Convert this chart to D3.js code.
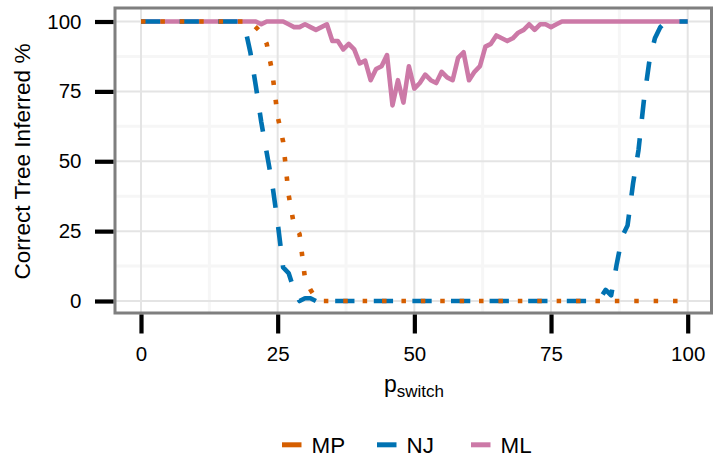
<!DOCTYPE html>
<html>
<head>
<meta charset="utf-8">
<script src="https://cdn.jsdelivr.net/npm/d3@7"></script>
<style>
  html, body { margin: 0; padding: 0; background: #ffffff; }
  svg { display: block; }
  text { font-family: "Liberation Sans", Arial, Helvetica, sans-serif; fill: #000; }
</style>
</head>
<body>
<svg id="chart" width="713" height="457"></svg>
<script>
// Switching probability (%) used for each simulation setting
const pSwitch = d3.range(0, 101);

// Percentage of runs that recovered the correct tree, per method
const mpValues = [
  100,100,100,100,100,100,100,100,100,100,
  100,100,100,100,100,100,100,100,100,100,
  100,98,96,92,82,66,57,38,27,24,
  8,4,1,0,0,0,0,0,0,0,
  0,0,0,0,0,0,0,0,0,0,
  0,0,0,0,0,0,0,0,0,0,
  0,0,0,0,0,0,0,0,0,0,
  0,0,0,0,0,0,0,0,0,0,
  0,0,0,0,0,0,0,0,0,0,
  0,0,0,0,0,0,0,0,0,0,
  0
];
const njValues = [
  100,100,100,100,100,100,100,100,100,100,
  100,100,100,100,100,100,100,100,100,98,
  89,77,64,53,42,28,12,10,4,0,
  1,1,0,0,0,0,0,0,0,0,
  0,0,0,0,0,0,0,0,0,0,
  0,0,0,0,0,0,0,0,0,0,
  0,0,0,0,0,0,0,0,0,0,
  0,0,0,0,0,0,0,0,0,0,
  0,0,0,0,1,4,2,13,23,27,
  42,54,72,86,94,98,100,100,100,100,
  100
];
const mlValues = [
  100,100,100,100,100,100,100,100,100,100,
  100,100,100,100,100,100,100,100,100,100,
  100,100,99,100,100,100,100,99,98,98,
  99,98,97,98,99,93,93,90,92,90,
  85,86,79,83,84,88,70,79,71,84,
  76,78,81,79,78,82,80,79,87,89,
  79,82,84,91,92,95,94,93,94,96,
  97,99,97,99,99,98,99,100,100,100,
  100,100,100,100,100,100,100,100,100,100,
  100,100,100,100,100,100,100,100,100,100,
  100
];

const methodNames = ["MP", "NJ", "ML"];
const methodColors = ["#D55E00", "#0072B2", "#CC79A7"];
const xTicks = [0, 25, 50, 75, 100];
const yTicks = [0, 25, 50, 75, 100];
const xMinor = [12.5, 37.5, 62.5, 87.5];
const yMinor = [12.5, 37.5, 62.5, 87.5];

const series = [
  { name: methodNames[0], values: mpValues, color: methodColors[0], dash: "4.5,14.9" },
  { name: methodNames[1], values: njValues, color: methodColors[1], dash: "19.3,19.3" },
  { name: methodNames[2], values: mlValues, color: methodColors[2], dash: null }
];

const svg = d3.select("#chart");

// Panel box
const panel = { left: 115, right: 711.5, top: 8, bottom: 313 };

const x = d3.scaleLinear().domain([0, 100]).range([141, 687.7]);
const y = d3.scaleLinear().domain([0, 100]).range([301, 21.5]);

// Grid: minor then major
const grid = svg.append("g");
grid.selectAll(".vminor").data(xMinor).join("line")
  .attr("x1", d => x(d)).attr("x2", d => x(d))
  .attr("y1", panel.top).attr("y2", panel.bottom)
  .attr("stroke", "#f6f6f6").attr("stroke-width", 3);
grid.selectAll(".hminor").data(yMinor).join("line")
  .attr("y1", d => y(d)).attr("y2", d => y(d))
  .attr("x1", panel.left).attr("x2", panel.right)
  .attr("stroke", "#f6f6f6").attr("stroke-width", 3);
grid.selectAll(".vmajor").data(xTicks).join("line")
  .attr("x1", d => x(d)).attr("x2", d => x(d))
  .attr("y1", panel.top).attr("y2", panel.bottom)
  .attr("stroke", "#e4e4e4").attr("stroke-width", 2);
grid.selectAll(".hmajor").data(yTicks).join("line")
  .attr("y1", d => y(d)).attr("y2", d => y(d))
  .attr("x1", panel.left).attr("x2", panel.right)
  .attr("stroke", "#e4e4e4").attr("stroke-width", 2);

// Lines: ML underneath, then NJ, then MP on top
const line = d3.line().x((d, i) => x(pSwitch[i])).y(d => y(d));
const drawOrder = [series[2], series[1], series[0]];
svg.append("g").selectAll("path").data(drawOrder).join("path")
  .attr("d", s => line(s.values))
  .attr("fill", "none")
  .attr("stroke", s => s.color)
  .attr("stroke-width", 4.6)
  .attr("stroke-linejoin", "round")
  .attr("stroke-linecap", "butt")
  .attr("stroke-dasharray", s => s.dash);

// Panel border
svg.append("rect")
  .attr("x", panel.left).attr("y", panel.top)
  .attr("width", panel.right - panel.left).attr("height", panel.bottom - panel.top)
  .attr("fill", "none").attr("stroke", "#7f7f7f").attr("stroke-width", 3);

// Axes with long thick ticks
const xAxis = svg.append("g")
  .attr("transform", `translate(0,${panel.bottom + 1.5})`)
  .call(d3.axisBottom(x).tickValues(xTicks).tickSize(19).tickPadding(13).tickSizeOuter(0));
xAxis.select(".domain").remove();
xAxis.selectAll(".tick line").attr("stroke", "#000").attr("stroke-width", 4.2);
xAxis.selectAll(".tick text")
  .attr("font-size", "20.5px").attr("fill", "#000")
  .attr("font-family", "'Liberation Sans', Arial, sans-serif");

const yAxis = svg.append("g")
  .attr("transform", `translate(${panel.left - 1.5},0)`)
  .call(d3.axisLeft(y).tickValues(yTicks).tickSize(18.5).tickPadding(13.5).tickSizeOuter(0));
yAxis.select(".domain").remove();
yAxis.selectAll(".tick line").attr("stroke", "#000").attr("stroke-width", 4.2);
yAxis.selectAll(".tick text")
  .attr("font-size", "20.5px").attr("fill", "#000")
  .attr("font-family", "'Liberation Sans', Arial, sans-serif");

// Axis titles
const xTitle = svg.append("text")
  .attr("x", 414).attr("y", 392)
  .attr("text-anchor", "middle")
  .attr("font-size", "23px");
xTitle.append("tspan").text("p");
xTitle.append("tspan").attr("font-size", "17px").attr("dy", 5).text("switch");

svg.append("text")
  .attr("transform", "translate(30,161.5) rotate(-90)")
  .attr("text-anchor", "middle")
  .attr("font-size", "22.6px")
  .text("Correct Tree Inferred %");

// Legend
const legendX = [282, 377, 471];
const legend = svg.append("g").selectAll("g").data(series).join("g")
  .attr("transform", (s, i) => `translate(${legendX[i]},444.8)`);
legend.append("line")
  .attr("x1", 0).attr("x2", 19.5).attr("y1", 0).attr("y2", 0)
  .attr("stroke", s => s.color).attr("stroke-width", 5);
legend.append("text")
  .attr("x", 29.5).attr("y", 7.7)
  .attr("font-size", "22.4px")
  .text(s => s.name);
</script>
</body>
</html>
